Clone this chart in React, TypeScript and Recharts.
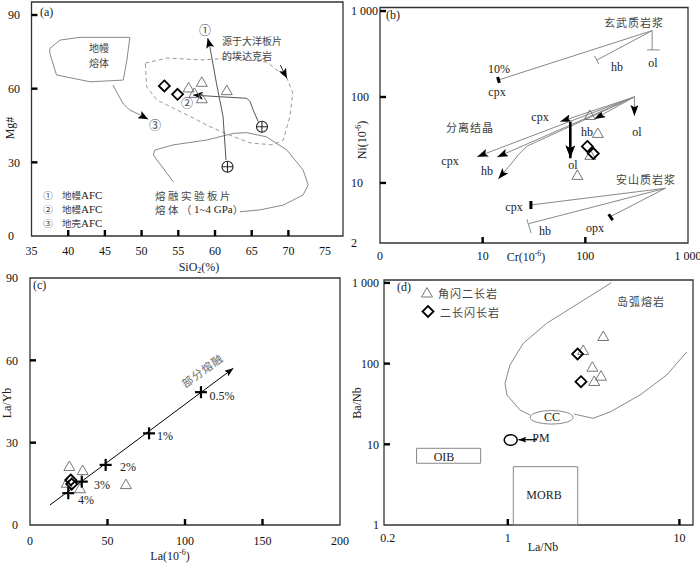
import React from 'react'
import { ScatterChart, Scatter, XAxis, YAxis, ReferenceArea } from 'recharts'

type P = [number, number]
const pts = (a: P[]) => a.map(([x, y]) => ({ x, y }))

// ---------- (a) SiO2 vs Mg# ----------
const mantleMelt: P[] = [
  [37.5, 76.4], [38.9, 79.8], [41.6, 80.9], [48.4, 80.9], [48.0, 71.7],
  [47.5, 63.5], [43.0, 62.8], [38.4, 65.6], [37.5, 74.4], [37.5, 76.4],
]
const mantleTail: P[] = [[46.1, 61.5], [46.7, 58.1], [47.5, 53.8], [48.4, 51.3], [49.8, 49.3], [50.9, 47.5]]
const adakiteField: P[] = [
  [50.5, 70.4], [53.5, 72.5], [58.0, 71.7], [62.5, 72.5], [67.1, 70.8], [69.8, 64.3],
  [70.6, 58.2], [70.2, 48.5], [69.3, 39.1], [67.9, 37.1], [64.8, 37.9], [62.0, 41.1],
  [59.1, 44.8], [57.6, 47.2], [52.1, 55.4], [50.7, 60.7], [50.5, 70.4],
]
const slabMelt: P[] = [
  [54.3, 22.1], [51.6, 33.0], [51.8, 35.0], [54.3, 37.1], [58.9, 39.1], [62.5, 41.8],
  [64.3, 42.1], [67.0, 40.4], [69.8, 35.0], [72.0, 26.9], [72.7, 20.8], [72.0, 16.7],
  [69.3, 12.6], [66.1, 10.6], [63.4, 9.9],
]
const afc1: P[] = [[61.5, 30.9], [61.1, 48.6], [60.2, 62.2], [59.3, 77.1], [59.0, 80.6]]
const afc2: P[] = [[65.9, 46.5], [65.2, 51.3], [64.8, 54.7], [64.3, 56.1], [60.7, 56.7], [57.0, 57.4]]
const adakiteArrow: P[] = [[68.9, 69.6], [69.8, 64.2]]
const startPointsA: P[] = [[61.7, 28.2], [66.4, 44.5]]
const monzoniteA: P[] = [[56.4, 60.5], [58.2, 62.8], [57.2, 58.3], [58.2, 56.1], [61.6, 59.4]]
const dioriteA: P[] = [[53.1, 61.1], [54.9, 57.7]]
const ticksAx = [35, 40, 45, 50, 55, 60, 65, 70, 75]
const ticksAy = [0, 30, 60, 90]

// ---------- (b) Cr vs Ni ----------
const basaltO: P = [447.7, 592]
const basaltCpx: P[] = [basaltO, [14.3, 158]]
const basaltHb: P[] = [basaltO, [130, 270]]
const basaltOl: P[] = [basaltO, [447.7, 353]]
const basaltCpxBar: P[] = [[14.55, 146.2], [13.98, 170.7]]
const basaltHbCap: P[] = [[123.2, 300.6], [134.9, 242.6]]
const basaltOlCap: P[] = [[400, 353], [531, 353]]
const fcO: P = [300.8, 100.2]
const fcCpxShort: P[] = [fcO, [57, 51.7]]
const fcHbShort: P[] = [fcO, [122.4, 55.5]]
const fcOlShort: P[] = [fcO, [300.8, 60.2]]
const fcCpxLong: P[] = [fcO, [8.84, 20.2]]
const fcHbLong: P[] = [fcO, [13.85, 20.0]]
const fcHbCurve: P[] = [fcO, [27.2, 26.9], [22.2, 21.2], [18.55, 16.2], [14.2, 11.1]]
const fcOlThick: P[] = [[71.4, 51.2], [71.4, 19.4]]
const andO: P = [603, 8.67]
const andCpx: P[] = [andO, [29.5, 5.54]]
const andCpxBar: P[] = [[29.5, 6.17], [29.5, 4.98]]
const andHb: P[] = [andO, [28.4, 3.37]]
const andHbCap: P[] = [[27.0, 3.78], [29.6, 2.61]]
const andOpx: P[] = [andO, [175.4, 4.05]]
const andOpxBar: P[] = [[168.8, 4.32], [184.6, 3.7]]
const monzoniteB: P[] = [[110.6, 61.8], [132.4, 38.2], [111.9, 21.2], [83.6, 12.4]]
const dioriteB: P[] = [[104.6, 26.6], [119.7, 22.0]]
const ticksBx = [1, 10, 100, 1000]
const ticksBy = [2, 10, 100, 1000]

// ---------- (c) La vs La/Yb ----------
const meltTrend: P[] = [[12.9, 7.3], [131.2, 57.1]]
const meltSteps: P[] = [[110.3, 48.4], [76.8, 33.4], [48.8, 21.9], [33.4, 15.8], [24.7, 11.6]]
const monzoniteC: P[] = [[25.4, 21.5], [34.0, 20.0], [61.9, 14.9], [23.7, 15.4], [32.3, 13.4]]
const dioriteC: P[] = [[26.3, 16.4], [26.9, 14.9]]
const ticksCx = [0, 50, 100, 150, 200]
const ticksCy = [0, 30, 60, 90]

// ---------- (d) La/Nb vs Ba/Nb ----------
const arcLeft: P[] = [
  [4.0, 1000], [1.685, 315.8], [1.231, 178.5], [1.03, 96.1], [0.963, 57.0],
  [0.989, 40.8], [1.178, 26.6], [1.346, 23.1],
]
const arcRight: P[] = [[2.43, 23.7], [3.14, 21.0], [3.94, 25.1], [5.89, 40.8], [8.43, 72.2], [11.03, 139.2]]
const ccPoint: P[] = [[1.8, 21.6]]
const pmPoint: P[] = [[1.04, 11.3]]
const pmArrow: P[] = [[1.48, 11.4], [1.154, 11.4]]
const oib = { x: [0.294, 0.695], y: [5.82, 8.92] }
const morb = { x: [1.077, 2.555], y: [1, 5.28] }
const monzoniteD: P[] = [[3.6, 219.8], [2.75, 147.4], [3.11, 91.5], [3.49, 70.8], [3.19, 60.9]]
const dioriteD: P[] = [[2.55, 131.5], [2.67, 59.7]]
const ticksDx = [0.2, 1, 10]
const ticksDy = [1, 10, 100, 1000]

const SERIF = '"Liberation Serif", "DejaVu Serif", serif'
const CJK = '"Noto Sans CJK SC", sans-serif'
const TICK = { fontFamily: SERIF, fontSize: 12, fill: '#111' }

// symbol shapes
const Nothing = () => <g />
const Tri = (p: any) => (
  <polygon
    points={`${p.cx},${p.cy - 5} ${p.cx + 5.5},${p.cy + 4.5} ${p.cx - 5.5},${p.cy + 4.5}`}
    fill="none" stroke="#777" strokeWidth={1}
  />
)
const Dia = (p: any) => (
  <polygon
    points={`${p.cx},${p.cy - 5.5} ${p.cx + 5.5},${p.cy} ${p.cx},${p.cy + 5.5} ${p.cx - 5.5},${p.cy}`}
    fill="none" stroke="#000" strokeWidth={1.8}
  />
)
const PlusCircle = (p: any) => (
  <g stroke="#222" strokeWidth={1.1}>
    <circle cx={p.cx} cy={p.cy} r={5.5} fill="#fff" />
    <line x1={p.cx - 5.5} x2={p.cx + 5.5} y1={p.cy} y2={p.cy} />
    <line x1={p.cx} x2={p.cx} y1={p.cy - 5.5} y2={p.cy + 5.5} />
  </g>
)
const Cross = (p: any) => (
  <g stroke="#000" strokeWidth={2.2}>
    <line x1={p.cx - 6} x2={p.cx + 6} y1={p.cy} y2={p.cy} />
    <line x1={p.cx} x2={p.cx} y1={p.cy - 6} y2={p.cy + 6} />
  </g>
)
const CC = (p: any) => <ellipse cx={p.cx} cy={p.cy} rx={21.5} ry={6.8} fill="#fff" stroke="#888" />
const PM = (p: any) => <ellipse cx={p.cx} cy={p.cy} rx={6.5} ry={5.3} fill="#fff" stroke="#000" strokeWidth={1.5} />

function path(id: string, data: P[], o: { stroke?: string; w?: number; dash?: string; arrow?: string } = {}) {
  return (
    <Scatter
      key={id}
      data={pts(data)}
      fill="none"
      shape={Nothing}
      lineType="joint"
      isAnimationActive={false}
      line={{
        stroke: o.stroke ?? '#888',
        strokeWidth: o.w ?? 1,
        strokeDasharray: o.dash,
        markerEnd: o.arrow ? `url(#${o.arrow})` : undefined,
        fill: 'none',
      }}
    />
  )
}

function symbols(id: string, data: P[], shape: any) {
  return <Scatter key={id} data={pts(data)} shape={shape} isAnimationActive={false} />
}

function xTick(margin: number, marked: number[], fmt: (v: number) => string = String) {
  return (p: any) => {
    const v = p.payload.value
    const ay = p.y - margin
    return (
      <g>
        <text x={p.x} y={p.y} dy="0.71em" textAnchor="middle" {...TICK}>{fmt(v)}</text>
        {marked.includes(v) && <line x1={p.x} x2={p.x} y1={ay} y2={ay - 6} stroke="#000" strokeWidth={2.4} />}
      </g>
    )
  }
}

function yTick(margin: number, marked: number[], fmt: (v: number) => string = String, startX?: number) {
  return (p: any) => {
    const v = p.payload.value
    const ax = p.x + margin
    return (
      <g>
        <text
          x={startX ?? p.x} y={p.y} dy="0.355em"
          textAnchor={startX !== undefined ? 'start' : 'end'} {...TICK}
        >
          {fmt(v)}
        </text>
        {marked.includes(v) && <line x1={ax} x2={ax + 6} y1={p.y} y2={p.y} stroke="#000" strokeWidth={2.4} />}
      </g>
    )
  }
}

const thousand = (v: number) => (v === 1000 ? '1 000' : String(v))

function frame(x: number[], y: number[]) {
  return <ReferenceArea x1={x[0]} x2={x[1]} y1={y[0]} y2={y[1]} fill="none" stroke="#333" strokeWidth={1.3} />
}

function PanelA() {
  const xd = [35, 77.44]
  const yd = [0, 95.3]
  return (
    <ScatterChart width={350} height={280} margin={{ top: 2, right: 7, bottom: 6, left: 3.5 }}>
      <XAxis type="number" dataKey="x" domain={xd} ticks={ticksAx} interval={0} allowDataOverflow
        height={38} tickSize={0} tickMargin={10} tickLine={false} axisLine={false}
        tick={xTick(10, [40, 45, 50, 55, 60, 65, 70])} />
      <YAxis type="number" dataKey="y" domain={yd} ticks={ticksAy} interval={0} allowDataOverflow
        width={28} tickSize={0} tickMargin={11} tickLine={false} axisLine={false}
        tick={yTick(11, [30, 60, 90], String, 8)} />
      {frame(xd, yd)}
      {path('mm', mantleMelt)}
      {path('mt', mantleTail, { arrow: 'ahA' })}
      {path('ad', adakiteField, { stroke: '#999', dash: '4 3' })}
      {path('sm', slabMelt)}
      {path('a1', afc1, { stroke: '#555', arrow: 'ahA' })}
      {path('a2', afc2, { stroke: '#555', arrow: 'ahA' })}
      {path('aa', adakiteArrow, { stroke: '#333', arrow: 'ahA' })}
      {symbols('pc', startPointsA, PlusCircle)}
      {symbols('ta', monzoniteA, Tri)}
      {symbols('da', dioriteA, Dia)}
    </ScatterChart>
  )
}

function PanelB() {
  const xd = [1, 1000]
  const yd = [2, 1100]
  return (
    <ScatterChart width={350} height={280} margin={{ top: 7.5, right: 12, bottom: 7, left: 2 }}>
      <XAxis type="number" dataKey="x" scale="log" domain={xd} ticks={ticksBx} interval={0} allowDataOverflow
        height={30} tickSize={0} tickMargin={8} tickLine={false} axisLine={false}
        tick={xTick(8, [10, 100], (v) => (v === 1 ? '0' : thousand(v)))} />
      <YAxis type="number" dataKey="y" scale="log" domain={yd} ticks={ticksBy} interval={0} allowDataOverflow
        width={28} tickSize={0} tickMargin={7} tickLine={false} axisLine={false}
        tick={yTick(7, [10, 100, 1000], thousand, 1)} />
      {frame(xd, yd)}
      {path('b1', basaltCpx)}
      {path('b2', basaltHb)}
      {path('b3', basaltOl)}
      {path('b4', basaltCpxBar, { stroke: '#000', w: 3 })}
      {path('b5', basaltHbCap)}
      {path('b6', basaltOlCap)}
      {path('f1', fcCpxShort, { arrow: 'ahB' })}
      {path('f2', fcHbShort, { arrow: 'ahB' })}
      {path('f3', fcOlShort, { arrow: 'ahB' })}
      {path('f4', fcCpxLong, { arrow: 'ahB' })}
      {path('f5', fcHbLong, { arrow: 'ahB' })}
      {path('f6', fcHbCurve, { arrow: 'ahB' })}
      {path('f7', fcOlThick, { stroke: '#000', w: 2.6, arrow: 'ahBig' })}
      {path('n1', andCpx)}
      {path('n2', andCpxBar, { stroke: '#000', w: 3 })}
      {path('n3', andHb)}
      {path('n4', andHbCap)}
      {path('n5', andOpx)}
      {path('n6', andOpxBar, { stroke: '#000', w: 3 })}
      {symbols('tb', monzoniteB, Tri)}
      {symbols('db', dioriteB, Dia)}
    </ScatterChart>
  )
}

function PanelC() {
  const xd = [0, 200]
  const yd = [0, 90]
  return (
    <ScatterChart width={350} height={293} margin={{ top: 8, right: 10, bottom: 6, left: 2 }}>
      <XAxis type="number" dataKey="x" domain={xd} ticks={ticksCx} interval={0} allowDataOverflow
        height={32} tickSize={0} tickMargin={11} tickLine={false} axisLine={false}
        tick={xTick(11, [50, 100, 150])} />
      <YAxis type="number" dataKey="y" domain={yd} ticks={ticksCy} interval={0} allowDataOverflow
        width={28} tickSize={0} tickMargin={12} tickLine={false} axisLine={false}
        tick={yTick(12, [30, 60])} />
      {frame(xd, yd)}
      {path('mtc', meltTrend, { stroke: '#000', arrow: 'ahC' })}
      {symbols('tc', monzoniteC, Tri)}
      {symbols('dc', dioriteC, Dia)}
      {symbols('xc', meltSteps, Cross)}
    </ScatterChart>
  )
}

function PanelD() {
  const xd = [0.19, 12]
  const yd = [1, 1086]
  return (
    <ScatterChart width={350} height={293} margin={{ top: 10, right: 7, bottom: 8, left: 2 }}>
      <XAxis type="number" dataKey="x" scale="log" domain={xd} ticks={ticksDx} interval={0} allowDataOverflow
        height={30} tickSize={0} tickMargin={8} tickLine={false} axisLine={false}
        tick={xTick(8, [1, 10])} />
      <YAxis type="number" dataKey="y" scale="log" domain={yd} ticks={ticksDy} interval={0} allowDataOverflow
        width={32} tickSize={0} tickMargin={5} tickLine={false} axisLine={false}
        tick={yTick(5, [10, 100, 1000], thousand)} />
      {frame(xd, yd)}
      <ReferenceArea x1={oib.x[0]} x2={oib.x[1]} y1={oib.y[0]} y2={oib.y[1]} fill="none" stroke="#888" />
      <ReferenceArea x1={morb.x[0]} x2={morb.x[1]} y1={morb.y[0]} y2={morb.y[1]} fill="none" stroke="#888" />
      {path('al', arcLeft)}
      {path('ar', arcRight)}
      {path('pa', pmArrow, { stroke: '#000', w: 1.3, arrow: 'ahD' })}
      {symbols('cc', ccPoint, CC)}
      {symbols('pm', pmPoint, PM)}
      {symbols('td', monzoniteD, Tri)}
      {symbols('dd', dioriteD, Dia)}
    </ScatterChart>
  )
}

function marker(id: string, len: number, wid: number) {
  return (
    <marker id={id} viewBox={`0 0 ${len} ${wid}`} refX={len} refY={wid / 2} markerWidth={len} markerHeight={wid}
      markerUnits="userSpaceOnUse" orient="auto">
      <path d={`M0,0 L${len},${wid / 2} L0,${wid} L${len * 0.22},${wid / 2} Z`} fill="#000" />
    </marker>
  )
}

function T({ x, y, children, a = 'middle', f = SERIF, s = 12, c = '#222', r, ls }: any) {
  return (
    <text x={x} y={y} textAnchor={a} dominantBaseline="central" fontFamily={f} fontSize={s} fill={c}
      letterSpacing={ls} transform={r ? `rotate(${r} ${x} ${y})` : undefined}>
      {children}
    </text>
  )
}
const Z = (p: any) => <T f={CJK} s={11} c="#444" {...p} />

export default function App() {
  return (
    <div style={{ position: 'absolute', left: 0, top: 0, width: 700, height: 563, background: '#fff' }}>
      <svg width={0} height={0} style={{ position: 'absolute' }}>
        <defs>
          {marker('ahA', 10, 8)}
          {marker('ahB', 11, 8)}
          {marker('ahBig', 13, 10)}
          {marker('ahC', 9, 7)}
          {marker('ahD', 8, 6)}
        </defs>
      </svg>
      <div style={{ position: 'absolute', left: 0, top: 0 }}><PanelA /></div>
      <div style={{ position: 'absolute', left: 350, top: 0 }}><PanelB /></div>
      <div style={{ position: 'absolute', left: 0, top: 270 }}><PanelC /></div>
      <div style={{ position: 'absolute', left: 350, top: 270 }}><PanelD /></div>
      <svg width={700} height={563} style={{ position: 'absolute', left: 0, top: 0, pointerEvents: 'none' }}>
        {/* (a) */}
        <T x={40} y={12} a="start">(a)</T>
        <Z x={205} y={29} s={12}>①</Z>
        <Z x={222} y={40} a="start" s={10}>源于大洋板片</Z>
        <Z x={222} y={55} a="start" s={10}>的埃达克岩</Z>
        <Z x={99} y={47} s={10}>地幔</Z>
        <Z x={99} y={62} s={10}>熔体</Z>
        <Z x={155} y={124} s={12}>③</Z>
        <Z x={187} y={102} s={12}>②</Z>
        <Z x={48} y={195} s={9.5}>①</Z>
        <T x={62} y={195} a="start" s={11}><tspan fontFamily={CJK} fontSize={9.5} fill="#444">地幔</tspan>AFC</T>
        <Z x={48} y={209} s={9.5}>②</Z>
        <T x={62} y={209} a="start" s={11}><tspan fontFamily={CJK} fontSize={9.5} fill="#444">地幔</tspan>AFC</T>
        <Z x={48} y={223} s={9.5}>③</Z>
        <T x={62} y={223} a="start" s={11}><tspan fontFamily={CJK} fontSize={9.5} fill="#444">地壳</tspan>AFC</T>
        <Z x={155} y={195} a="start" s={10.5} ls={2.5}>熔融实验板片</Z>
        <T x={155} y={209} a="start" s={11}><tspan fontFamily={CJK} fontSize={10.5} fill="#444" letterSpacing={2.5}>熔体（</tspan>1~4 GPa<tspan fontFamily={CJK} fontSize={10.5} fill="#444">）</tspan></T>
        <T x={199} y={267}>SiO<tspan fontSize={8} dy={3}>2</tspan><tspan dy={-3}>(%)</tspan></T>
        <T x={10} y={128} r={-90}>Mg#</T>

        {/* (b) */}
        <T x={386} y={15} a="start">(b)</T>
        <Z x={634} y={22} ls={1}>玄武质岩浆</Z>
        <T x={499} y={69}>10%</T>
        <T x={497} y={92}>cpx</T>
        <T x={617} y={67}>hb</T>
        <T x={653} y={63}>ol</T>
        <T x={540} y={117}>cpx</T>
        <T x={587} y={132}>hb</T>
        <T x={637} y={132}>ol</T>
        <Z x={470} y={127} ls={1}>分离结晶</Z>
        <T x={450} y={161}>cpx</T>
        <T x={487} y={171}>hb</T>
        <T x={573} y={165}>ol</T>
        <Z x={646} y={179} ls={1}>安山质岩浆</Z>
        <T x={514} y={207}>cpx</T>
        <T x={545} y={231}>hb</T>
        <T x={595} y={228}>opx</T>
        <T x={526} y={257}>Cr(10<tspan fontSize={8} dy={-4}>-6</tspan><tspan dy={4}>)</tspan></T>
        <T x={362} y={140} r={-90}>Ni(10<tspan fontSize={8} dy={-4}>-6</tspan><tspan dy={4}>)</tspan></T>

        {/* (c) */}
        <T x={33} y={285} a="start">(c)</T>
        <T x={222} y={396}>0.5%</T>
        <T x={165} y={436}>1%</T>
        <T x={128} y={467}>2%</T>
        <T x={102} y={485}>3%</T>
        <T x={86} y={500}>4%</T>
        <Z x={202} y={370} r={-36} c="#666" ls={1}>部分熔融</Z>
        <T x={170} y={556}>La(10<tspan fontSize={8} dy={-4}>-6</tspan><tspan dy={4}>)</tspan></T>
        <T x={7} y={403} r={-90}>La/Yb</T>

        {/* (d) */}
        <T x={397} y={287} a="start">(d)</T>
        <polygon points="427,287.5 432.5,297 421.5,297" fill="none" stroke="#777" />
        <Z x={438} y={293} a="start" ls={1}>角闪二长岩</Z>
        <polygon points="428,306 433.5,311.5 428,317 422.5,311.5" fill="none" stroke="#000" strokeWidth={1.8} />
        <Z x={440} y={312} a="start" ls={1}>二长闪长岩</Z>
        <Z x={641} y={301} ls={1}>岛弧熔岩</Z>
        <T x={552} y={417}>CC</T>
        <T x={541} y={438}>PM</T>
        <T x={444} y={457}>OIB</T>
        <T x={544} y={495}>MORB</T>
        <T x={543} y={547}>La/Nb</T>
        <T x={357} y={403} r={-90}>Ba/Nb</T>
      </svg>
    </div>
  )
}
